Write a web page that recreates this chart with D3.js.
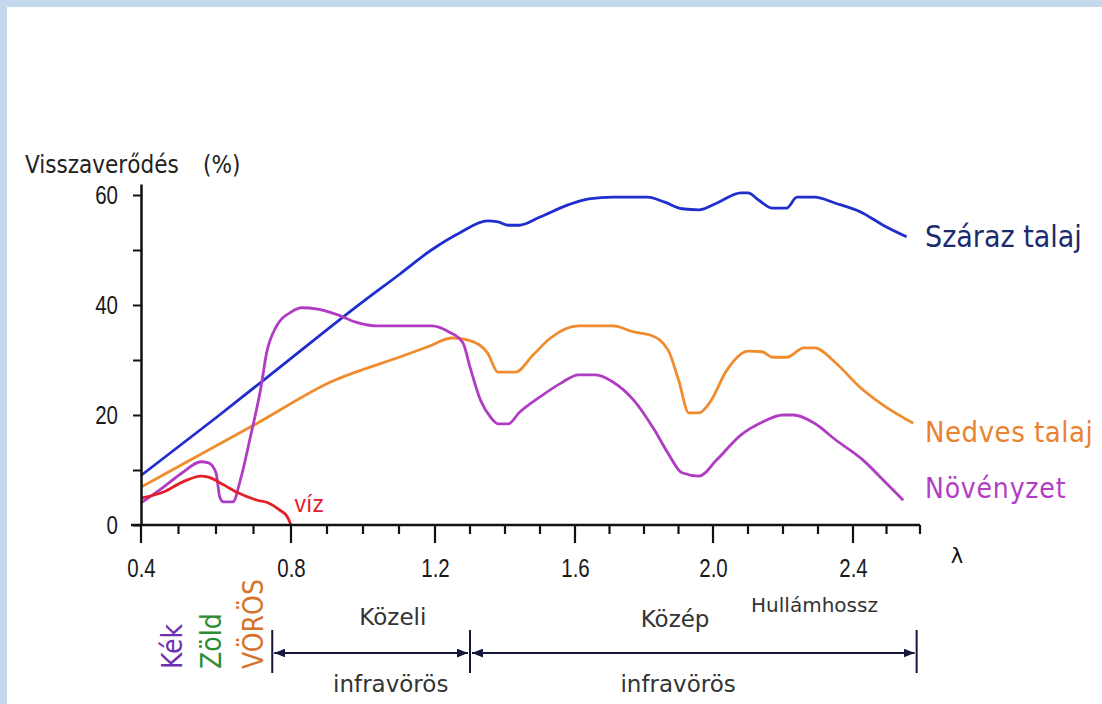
<!DOCTYPE html>
<html lang="hu">
<head>
<meta charset="UTF-8">
<title>Visszaverődés</title>
<script src="https://d3js.org/d3.v7.min.js"></script>
<style>
  body { margin: 0; background: #fff; }
  svg { display: block; }
</style>
</head>
<body>
<div id="chart-container"></div>
<script>
// wavelength (um) and reflectance (%)
var dryWave = [0.40, 0.60, 0.80, 1.00, 1.10, 1.19, 1.27, 1.35, 1.38, 1.41, 1.44, 1.50, 1.58, 1.64, 1.71, 1.81, 1.86, 1.91, 1.96, 2.01, 2.08, 2.10, 2.13, 2.17, 2.21, 2.24, 2.29, 2.35, 2.43, 2.49, 2.56];
var dryRefl = [9, 19.5, 30.3, 40.6, 45.5, 50, 53.1, 55.3, 55.1, 54.5, 54.5, 56, 58.2, 59.3, 59.6, 59.6, 58.7, 57.5, 57.3, 58.5, 60.4, 60.4, 59.1, 57.6, 57.6, 59.6, 59.6, 58.5, 56.7, 54.5, 52.4];

var wetWave = [0.40, 0.71, 0.91, 1.10, 1.18, 1.25, 1.31, 1.35, 1.38, 1.43, 1.48, 1.53, 1.61, 1.71, 1.77, 1.82, 1.87, 1.90, 1.93, 1.96, 1.99, 2.04, 2.10, 2.14, 2.17, 2.21, 2.26, 2.29, 2.35, 2.42, 2.49, 2.58];
var wetRefl = [6.9, 18.5, 26, 30.5, 32.4, 34, 33.3, 31.3, 27.8, 27.8, 30.9, 34, 36.2, 36.2, 35.1, 34.5, 31.8, 26.4, 20.4, 20.4, 22.2, 28.2, 31.6, 31.5, 30.5, 30.5, 32.2, 32.2, 29.5, 25.1, 21.8, 18.5];

var vegWave = [0.40, 0.46, 0.51, 0.56, 0.58, 0.60, 0.61, 0.62, 0.645, 0.665, 0.69, 0.72, 0.735, 0.76, 0.80, 0.83, 0.87, 0.93, 0.98, 1.04, 1.13, 1.19, 1.24, 1.28, 1.30, 1.33, 1.36, 1.38, 1.41, 1.44, 1.50, 1.56, 1.61, 1.66, 1.71, 1.77, 1.83, 1.87, 1.91, 1.96, 2.01, 2.08, 2.14, 2.20, 2.23, 2.29, 2.35, 2.43, 2.49, 2.55];
var vegRefl = [4, 6.9, 9.5, 11.5, 11.3, 9.5, 5.1, 4.2, 4.2, 8.2, 15.5, 25.1, 31.3, 36, 38.7, 39.5, 39.3, 38.2, 36.9, 36.2, 36.2, 36.2, 35.1, 33.1, 28.7, 22.7, 19.5, 18.4, 18.4, 20.4, 23.3, 25.8, 27.3, 27.3, 26, 22.7, 17.3, 13, 9.5, 8.9, 11.8, 16.4, 18.7, 20, 20, 18.5, 15.5, 11.8, 8.2, 4.5];

var waterWave = [0.40, 0.46, 0.51, 0.56, 0.58, 0.62, 0.66, 0.71, 0.74, 0.77, 0.79, 0.80];
var waterRefl = [4.9, 6, 7.8, 8.9, 8.7, 7.3, 5.8, 4.5, 4, 2.7, 1.5, 0];

var seriesNames = ["Száraz talaj", "Nedves talaj", "Növényzet"];
var yTicks = [0, 10, 20, 30, 40, 50, 60];
var xTicks = d3.range(4, 27).map(function(d) { return d / 10; });
var bandEdges = [0.75, 1.3, 2.59];
var bandNames = ["Közeli", "Közép"];
var visibleNames = ["Kék", "Zöld", "VÖRÖS"];

var width = 1102, height = 704;
var tickFont = '"Liberation Sans", Arial, sans-serif';
var cond = '"DejaVu Sans Condensed", "DejaVu Sans", sans-serif';

var svg = d3.select("#chart-container").append("svg")
  .attr("width", width).attr("height", height);

// light blue frame, top and left
svg.append("rect").attr("width", width).attr("height", height).attr("fill", "#c5d9ee");
svg.append("rect").attr("x", 7).attr("y", 7).attr("width", width).attr("height", height).attr("fill", "#fff");

var x = d3.scaleLinear()
  .domain([0.4, 0.8, 1.2, 1.6, 2.0, 2.4, 2.6])
  .range([141, 291, 435, 575, 713, 853, 920]);
var y = d3.scaleLinear().domain([0, 62]).range([525, 184]);

function isMajor(d) { return Math.round(d * 10) % 4 === 0; }

// curves
var line = d3.line()
  .x(function(d) { return x(d[0]); })
  .y(function(d) { return y(d[1]); })
  .curve(d3.curveMonotoneX);

var curves = [
  { wave: wetWave, refl: wetRefl, color: "#f08c2e" },
  { wave: dryWave, refl: dryRefl, color: "#1f2ecc" },
  { wave: vegWave, refl: vegRefl, color: "#b03cc4" },
  { wave: waterWave, refl: waterRefl, color: "#e2202a" }
];
curves.forEach(function(c) {
  svg.append("path")
    .datum(d3.zip(c.wave, c.refl))
    .attr("fill", "none")
    .attr("stroke", c.color)
    .attr("stroke-width", 2.8)
    .attr("stroke-linejoin", "round")
    .attr("d", line);
});

// x axis: labels from the axis, tick marks from the same scale
var gx = svg.append("g").attr("transform", "translate(0," + y(0) + ")")
  .call(d3.axisBottom(x).tickValues(xTicks).tickSize(0).tickSizeOuter(0)
    .tickFormat(function(d) { return isMajor(d) ? d.toFixed(1) : ""; }));
gx.select(".domain").remove();
gx.selectAll(".tick text").attr("y", 52).attr("dy", 0)
  .attr("transform", "scale(0.82,1)")
  .style("font-family", tickFont).style("font-size", "25px").attr("fill", "#1a1a1a");

svg.append("line").attr("x1", 131).attr("x2", x(2.6))
  .attr("y1", y(0)).attr("y2", y(0))
  .attr("stroke", "#111").attr("stroke-width", 2.5);

svg.append("g").selectAll("path")
  .data(xTicks)
  .join("path")
  .attr("d", function(d) {
    return "M" + x(d) + "," + y(0) + "V" + (y(0) + (isMajor(d) ? 18 : 9));
  })
  .attr("fill", "none")
  .attr("stroke", "#111")
  .attr("stroke-width", 2.2);

// y axis
var gy = svg.append("g").attr("transform", "translate(" + x(0.4) + ",0)")
  .call(d3.axisLeft(y).tickValues(yTicks).tickSize(8).tickPadding(15).tickSizeOuter(0)
    .tickFormat(function(d) { return d % 20 === 0 ? d : ""; }));
gy.select(".domain").attr("stroke", "#111").attr("stroke-width", 2.5);
gy.selectAll(".tick line").attr("stroke", "#111").attr("stroke-width", 2);
gy.selectAll(".tick text").attr("x", -23 / 0.82)
  .attr("transform", "scale(0.82,1)")
  .style("font-family", tickFont).style("font-size", "25px").attr("fill", "#1a1a1a");

svg.append("text").attr("x", 25).attr("y", 173)
  .style("font-family", cond).style("font-size", "24px").attr("fill", "#222")
  .text("Visszaverődés");
svg.append("text").attr("x", 203).attr("y", 173)
  .style("font-family", cond).style("font-size", "24px").attr("fill", "#222")
  .text("(%)");

// series labels
var labelFont = cond;
svg.append("text").attr("x", x(2.615)).attr("y", y(50.5))
  .style("font-family", labelFont).style("font-size", "30px").attr("fill", "#1c2a6e")
  .text(seriesNames[0]);
svg.append("text").attr("x", x(2.615)).attr("y", y(15.1))
  .style("font-family", labelFont).style("font-size", "29px").style("letter-spacing", "0.5px").attr("fill", "#ea8230")
  .text(seriesNames[1]);
svg.append("text").attr("x", x(2.615)).attr("y", y(4.9))
  .style("font-family", labelFont).style("font-size", "28px").style("letter-spacing", "0.8px").attr("fill", "#b23ec4")
  .text(seriesNames[2]);
svg.append("text").attr("x", x(0.81)).attr("y", y(2.4))
  .style("font-family", '"Liberation Sans", sans-serif').style("font-size", "23px").attr("fill", "#e2202a")
  .text("víz");

// lambda
svg.append("text").attr("x", 957).attr("y", 563).attr("text-anchor", "middle")
  .style("font-family", '"DejaVu Sans", sans-serif').style("font-size", "21px").attr("fill", "#111")
  .text("λ");

// visible band names, rotated
var visColors = ["#6e2fb0", "#2e8c34", "#d4732c"];
var visX = [182, 221, 263];
visibleNames.forEach(function(n, i) {
  svg.append("text")
    .attr("transform", "translate(" + visX[i] + ",669) rotate(-90)")
    .style("font-family", cond).style("font-size", "28px").attr("fill", visColors[i])
    .text(n);
});

// infrared bands with arrows
var arrowY = 653;
var defs = svg.append("defs");
defs.append("marker").attr("id", "arr")
  .attr("viewBox", "0 0 10 8").attr("refX", 10).attr("refY", 4)
  .attr("markerWidth", 11).attr("markerHeight", 9).attr("markerUnits", "userSpaceOnUse")
  .attr("orient", "auto-start-reverse")
  .append("path").attr("d", "M0,0L10,4L0,8Z").attr("fill", "#16163c");

for (var i = 0; i < bandNames.length; i++) {
  svg.append("line")
    .attr("x1", x(bandEdges[i]) + 2).attr("x2", x(bandEdges[i + 1]) - 2)
    .attr("y1", arrowY).attr("y2", arrowY)
    .attr("stroke", "#16163c").attr("stroke-width", 2)
    .attr("marker-start", "url(#arr)").attr("marker-end", "url(#arr)");
}
bandEdges.forEach(function(e) {
  svg.append("line").attr("x1", x(e)).attr("x2", x(e)).attr("y1", 630).attr("y2", 673)
    .attr("stroke", "#16163c").attr("stroke-width", 2);
});

var bandFont = '"DejaVu Sans", sans-serif';
svg.append("text").attr("x", x(1.083)).attr("y", 625).attr("text-anchor", "middle")
  .style("font-family", bandFont).style("font-size", "23px").attr("fill", "#333").text(bandNames[0]);
svg.append("text").attr("x", x(1.89)).attr("y", 627).attr("text-anchor", "middle")
  .style("font-family", bandFont).style("font-size", "23px").attr("fill", "#333").text(bandNames[1]);
svg.append("text").attr("x", x(2.29)).attr("y", 612).attr("text-anchor", "middle")
  .style("font-family", bandFont).style("font-size", "20px").attr("fill", "#333").text("Hullámhossz");
[1.077, 1.899].forEach(function(w) {
  svg.append("text").attr("x", x(w)).attr("y", 692).attr("text-anchor", "middle")
    .style("font-family", bandFont).style("font-size", "23px").attr("fill", "#333").text("infravörös");
});
</script>
</body>
</html>
